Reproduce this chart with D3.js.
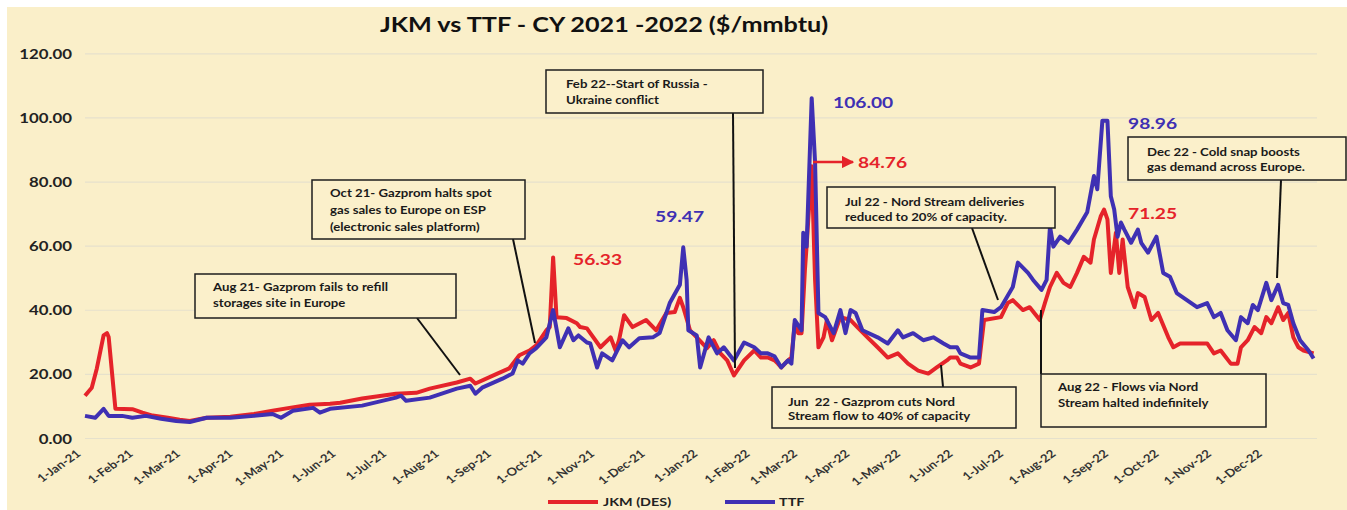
<!DOCTYPE html>
<html>
<head>
<meta charset="utf-8">
<script src="https://cdn.jsdelivr.net/npm/d3@7"></script>
<style>
  html, body { margin: 0; padding: 0; background: #fff; }
  svg { display: block; font-family: Lato, "Open Sans", sans-serif; }
</style>
</head>
<body>
<svg id="chart" width="1347" height="510"></svg>
<script>
// JKM (DES) spot, $/mmbtu
const jkm = [
  ["2021-01-01", 13.2], ["2021-01-05", 15.7], ["2021-01-08", 21.7], ["2021-01-12", 32.0],
  ["2021-01-14", 32.7], ["2021-01-15", 31.5], ["2021-01-19", 9.1], ["2021-01-29", 9.0],
  ["2021-02-04", 7.9], ["2021-02-10", 7.0], ["2021-02-19", 6.3], ["2021-02-26", 5.7],
  ["2021-03-04", 5.3], ["2021-03-14", 6.3], ["2021-03-28", 6.6], ["2021-04-11", 7.5],
  ["2021-04-22", 8.5], ["2021-05-02", 9.4], ["2021-05-14", 10.4], ["2021-05-26", 10.7],
  ["2021-06-01", 11.0], ["2021-06-14", 12.3], ["2021-07-04", 13.8], ["2021-07-16", 14.1],
  ["2021-07-24", 15.4], ["2021-08-09", 17.3], ["2021-08-17", 18.5], ["2021-08-20", 17.0],
  ["2021-09-02", 20.1], ["2021-09-09", 21.7], ["2021-09-15", 25.8], ["2021-09-21", 27.3],
  ["2021-09-25", 28.9], ["2021-10-01", 33.6], ["2021-10-03", 34.6], ["2021-10-05", 56.33],
  ["2021-10-07", 37.7], ["2021-10-13", 37.4], ["2021-10-19", 35.8], ["2021-10-21", 34.6],
  ["2021-10-25", 34.2], ["2021-10-27", 32.7], ["2021-11-02", 28.3], ["2021-11-08", 31.4],
  ["2021-11-11", 27.3], ["2021-11-13", 30.5], ["2021-11-16", 38.3], ["2021-11-21", 34.6],
  ["2021-11-29", 36.8], ["2021-12-05", 33.6], ["2021-12-11", 39.0], ["2021-12-16", 39.3],
  ["2021-12-19", 43.7], ["2021-12-21", 40.8], ["2021-12-25", 33.6], ["2021-12-29", 31.4],
  ["2022-01-04", 28.0], ["2022-01-08", 30.5], ["2022-01-12", 26.4], ["2022-01-16", 24.2],
  ["2022-01-20", 19.5], ["2022-01-26", 24.2], ["2022-02-01", 27.3], ["2022-02-05", 25.1],
  ["2022-02-09", 25.1], ["2022-02-13", 24.2], ["2022-02-15", 23.2], ["2022-02-17", 22.0],
  ["2022-02-21", 24.2], ["2022-02-23", 25.1], ["2022-02-25", 35.8], ["2022-02-27", 32.7],
  ["2022-03-01", 32.7], ["2022-03-03", 52.5], ["2022-03-04", 60.0], ["2022-03-07", 84.76],
  ["2022-03-09", 49.3], ["2022-03-11", 28.3], ["2022-03-14", 31.4], ["2022-03-16", 36.8],
  ["2022-03-19", 30.5], ["2022-03-24", 37.7], ["2022-03-30", 36.8], ["2022-04-03", 34.6],
  ["2022-04-09", 31.4], ["2022-04-15", 28.3], ["2022-04-21", 25.1], ["2022-04-27", 26.4],
  ["2022-05-03", 23.2], ["2022-05-09", 21.0], ["2022-05-15", 20.1], ["2022-05-20", 22.0],
  ["2022-05-26", 24.2], ["2022-05-28", 25.1], ["2022-06-01", 25.1], ["2022-06-03", 23.2],
  ["2022-06-09", 22.0], ["2022-06-14", 23.2], ["2022-06-17", 36.8], ["2022-06-27", 37.7],
  ["2022-07-01", 42.1], ["2022-07-04", 43.0], ["2022-07-10", 39.9], ["2022-07-14", 40.8],
  ["2022-07-20", 36.8], ["2022-07-23", 42.1], ["2022-07-26", 47.1], ["2022-07-30", 51.5],
  ["2022-08-03", 48.4], ["2022-08-07", 47.1], ["2022-08-11", 51.5], ["2022-08-15", 56.5],
  ["2022-08-19", 54.7], ["2022-08-21", 61.9], ["2022-08-25", 69.1], ["2022-08-27", 71.25],
  ["2022-08-29", 68.2], ["2022-08-31", 51.5], ["2022-09-03", 64.0], ["2022-09-05", 51.5],
  ["2022-09-07", 61.9], ["2022-09-10", 47.1], ["2022-09-14", 40.8], ["2022-09-16", 45.2],
  ["2022-09-20", 44.0], ["2022-09-24", 36.8], ["2022-09-28", 39.0], ["2022-10-04", 31.4],
  ["2022-10-07", 28.3], ["2022-10-11", 29.5], ["2022-10-17", 29.5], ["2022-10-27", 29.5],
  ["2022-10-31", 26.4], ["2022-11-04", 27.3], ["2022-11-10", 23.2], ["2022-11-14", 23.2],
  ["2022-11-16", 28.3], ["2022-11-20", 30.5], ["2022-11-24", 34.6], ["2022-11-28", 32.7],
  ["2022-12-01", 37.7], ["2022-12-04", 35.8], ["2022-12-08", 40.8], ["2022-12-11", 36.8],
  ["2022-12-14", 39.0], ["2022-12-17", 31.4], ["2022-12-20", 28.3], ["2022-12-23", 27.3],
  ["2022-12-29", 26.4]
];

// TTF, $/mmbtu
const ttf = [
  ["2021-01-01", 6.9], ["2021-01-07", 6.3], ["2021-01-12", 9.1], ["2021-01-15", 6.9],
  ["2021-01-23", 6.9], ["2021-01-29", 6.3], ["2021-02-06", 6.9], ["2021-02-15", 6.0],
  ["2021-02-24", 5.3], ["2021-03-04", 5.0], ["2021-03-14", 6.3], ["2021-03-28", 6.3],
  ["2021-04-11", 6.9], ["2021-04-22", 7.5], ["2021-04-27", 6.3], ["2021-05-04", 8.5],
  ["2021-05-16", 9.4], ["2021-05-20", 7.9], ["2021-05-26", 9.1], ["2021-06-14", 10.1],
  ["2021-07-04", 12.6], ["2021-07-07", 13.2], ["2021-07-10", 11.6], ["2021-07-24", 12.6],
  ["2021-08-09", 15.4], ["2021-08-17", 16.3], ["2021-08-20", 13.8], ["2021-08-24", 15.7],
  ["2021-09-05", 18.5], ["2021-09-11", 20.1], ["2021-09-14", 24.2], ["2021-09-17", 23.2],
  ["2021-09-21", 26.4], ["2021-09-25", 28.0], ["2021-10-01", 31.4], ["2021-10-05", 39.9],
  ["2021-10-09", 28.3], ["2021-10-14", 34.2], ["2021-10-17", 30.5], ["2021-10-20", 32.0],
  ["2021-10-25", 29.8], ["2021-10-27", 29.5], ["2021-10-31", 22.0], ["2021-11-03", 26.4],
  ["2021-11-09", 24.2], ["2021-11-15", 30.5], ["2021-11-19", 28.3], ["2021-11-25", 31.1],
  ["2021-12-03", 31.4], ["2021-12-07", 32.7], ["2021-12-13", 42.1], ["2021-12-19", 47.8],
  ["2021-12-21", 59.47], ["2021-12-23", 49.3], ["2021-12-24", 33.6], ["2021-12-29", 32.0],
  ["2021-12-31", 22.0], ["2022-01-05", 31.4], ["2022-01-10", 26.4], ["2022-01-14", 28.3],
  ["2022-01-20", 24.2], ["2022-01-26", 29.8], ["2022-02-01", 28.3], ["2022-02-05", 26.4],
  ["2022-02-09", 26.4], ["2022-02-13", 25.5], ["2022-02-17", 22.0], ["2022-02-21", 24.2],
  ["2022-02-23", 23.2], ["2022-02-25", 36.8], ["2022-03-01", 33.6], ["2022-03-02", 64.0],
  ["2022-03-04", 59.7], ["2022-03-07", 106.0], ["2022-03-09", 86.0], ["2022-03-11", 39.0],
  ["2022-03-15", 37.7], ["2022-03-20", 32.7], ["2022-03-24", 39.9], ["2022-03-27", 32.7],
  ["2022-03-30", 39.9], ["2022-04-02", 39.0], ["2022-04-06", 33.6], ["2022-04-15", 31.4],
  ["2022-04-21", 29.5], ["2022-04-27", 33.6], ["2022-04-30", 31.4], ["2022-05-06", 32.7],
  ["2022-05-12", 30.5], ["2022-05-18", 31.4], ["2022-05-24", 29.5], ["2022-05-28", 28.3],
  ["2022-06-01", 28.3], ["2022-06-03", 26.4], ["2022-06-09", 25.1], ["2022-06-14", 25.1],
  ["2022-06-16", 39.9], ["2022-06-23", 39.3], ["2022-06-27", 40.8], ["2022-07-04", 47.1],
  ["2022-07-07", 54.7], ["2022-07-13", 51.5], ["2022-07-16", 49.3], ["2022-07-21", 46.2],
  ["2022-07-24", 49.3], ["2022-07-26", 66.0], ["2022-07-28", 59.7], ["2022-08-01", 62.8],
  ["2022-08-06", 60.9], ["2022-08-11", 65.0], ["2022-08-17", 70.4], ["2022-08-21", 81.7],
  ["2022-08-23", 77.6], ["2022-08-26", 98.96], ["2022-08-29", 98.96], ["2022-08-31", 75.4],
  ["2022-09-02", 71.3], ["2022-09-04", 62.8], ["2022-09-06", 67.2], ["2022-09-08", 65.0],
  ["2022-09-12", 60.9], ["2022-09-16", 65.0], ["2022-09-18", 60.9], ["2022-09-22", 57.8],
  ["2022-09-27", 62.8], ["2022-10-01", 51.5], ["2022-10-05", 50.3], ["2022-10-09", 45.2],
  ["2022-10-15", 43.0], ["2022-10-21", 40.8], ["2022-10-27", 42.1], ["2022-10-31", 37.7],
  ["2022-11-04", 39.0], ["2022-11-08", 33.6], ["2022-11-13", 30.5], ["2022-11-16", 37.7],
  ["2022-11-20", 35.8], ["2022-11-23", 41.5], ["2022-11-26", 39.9], ["2022-12-01", 48.4],
  ["2022-12-04", 43.0], ["2022-12-08", 47.8], ["2022-12-11", 42.1], ["2022-12-14", 41.5],
  ["2022-12-17", 35.8], ["2022-12-21", 30.5], ["2022-12-26", 27.3], ["2022-12-29", 24.8]
];

const yTicks = [0, 20, 40, 60, 80, 100, 120];
const seriesNames = ["JKM (DES)", "TTF"];
const colors = { jkm: "#e5232a", ttf: "#3f30b3" };

// callouts: text lines, box [x, y, w, h], connector [x1, y1, x2, y2]
const notes = [
  { lines: ["Aug 21- Gazprom fails to refill", "storages site in Europe"],
    box: [195, 274, 261, 44], tx: 213, ty: 291, lh: 16, link: [417, 318, 460, 375] },
  { lines: ["Oct 21- Gazprom halts spot", "gas sales to Europe on ESP", "(electronic sales platform)"],
    box: [312, 180, 213, 59], tx: 330, ty: 197, lh: 17, link: [513, 239, 535, 343] },
  { lines: ["Feb 22--Start of Russia -", "Ukraine conflict"],
    box: [546, 70, 217, 43], tx: 566, ty: 88, lh: 16, link: [733, 113, 735, 368] },
  { lines: ["Jul 22 - Nord Stream deliveries", "reduced to 20% of capacity."],
    box: [827, 187, 228, 41], tx: 845, ty: 206, lh: 15, link: [972, 228, 998, 300] },
  { lines: ["Dec 22 - Cold snap boosts", "gas demand across Europe."],
    box: [1128, 137, 218, 43], tx: 1147, ty: 156, lh: 15, link: [1281, 180, 1277, 278] },
  { lines: ["Jun  22 - Gazprom cuts Nord", "Stream flow to 40% of capacity"],
    box: [772, 387, 244, 41], tx: 788, ty: 406, lh: 14, link: [943, 387, 941, 365] },
  { lines: ["Aug 22 - Flows via Nord", "Stream halted indefinitely"],
    box: [1041, 374, 225, 53], tx: 1058, ty: 391, lh: 16, link: [1041, 374, 1041, 310] }
];

const SX = 1.2; // text in the source is stretched sideways
const parse = d3.timeParse("%Y-%m-%d");

const svg = d3.select("#chart");
svg.append("rect").attr("x", 7).attr("y", 7).attr("width", 1340).attr("height", 503)
  .attr("fill", "#faefc9");

const x = d3.scaleTime()
  .domain([parse("2021-01-01"), parse("2022-12-31")])
  .range([85, 1317]);
const y = d3.scaleLinear().domain([0, 120]).range([438, 53.3]);

// gridlines
svg.append("g")
  .attr("transform", "translate(85,0)")
  .call(d3.axisLeft(y).tickValues(yTicks).tickSize(-1232).tickFormat(""))
  .call(g => g.select(".domain").remove())
  .call(g => g.selectAll("line").attr("stroke", "#e6e1cc").attr("stroke-width", 1.2));

// y labels
svg.append("g")
  .attr("transform", "translate(72,0)")
  .call(d3.axisLeft(y).tickValues(yTicks).tickSize(0).tickPadding(0).tickFormat(d3.format(".2f")))
  .call(g => g.select(".domain").remove())
  .call(g => g.selectAll("text")
    .attr("x", null).attr("dy", null)
    .attr("transform", "translate(0,5) scale(" + SX + ",1)")
    .attr("text-anchor", "end")
    .attr("font-family", "Lato").attr("font-weight", "bold").attr("font-size", 14)
    .attr("fill", "#222"));

// x labels
svg.append("g")
  .attr("transform", "translate(0,444)")
  .call(d3.axisBottom(x).ticks(d3.timeMonth.every(1)).tickSize(0)
    .tickFormat(d3.timeFormat("%-d-%b-%y")))
  .call(g => g.select(".domain").remove())
  .call(g => g.selectAll("text")
    .attr("y", null).attr("dy", null)
    .attr("transform", "translate(-4,11) scale(" + SX + ",1) rotate(-40)")
    .attr("text-anchor", "end")
    .attr("font-family", "Lato").attr("font-weight", "bold").attr("font-size", 11)
    .attr("fill", "#333"));

// series
const line = d3.line().x(d => x(parse(d[0]))).y(d => y(d[1]));
[["jkm", jkm], ["ttf", ttf]].forEach(([k, data]) => {
  svg.append("path")
    .datum(data)
    .attr("d", line)
    .attr("fill", "none")
    .attr("stroke", colors[k])
    .attr("stroke-width", 4)
    .attr("stroke-linejoin", "round");
});

// callouts
const ng = svg.append("g");
notes.forEach(n => {
  ng.append("line")
    .attr("x1", n.link[0]).attr("y1", n.link[1]).attr("x2", n.link[2]).attr("y2", n.link[3])
    .attr("stroke", "#111").attr("stroke-width", 2);
  ng.append("rect")
    .attr("x", n.box[0]).attr("y", n.box[1]).attr("width", n.box[2]).attr("height", n.box[3])
    .attr("fill", "#fbf0cb").attr("stroke", "#1e1e1e").attr("stroke-width", 1.5);
  n.lines.forEach((t, i) => {
    ng.append("text")
      .attr("transform", `translate(${n.tx},${n.ty + i * n.lh}) scale(${SX},1)`)
      .attr("font-family", "Lato").attr("font-weight", "bold").attr("font-size", 11)
      .attr("fill", "#1a1a1a")
      .style("white-space", "pre")
      .text(t);
  });
});

// value labels
const valueLabels = [
  { t: "56.33", x: 573, y: 265, c: colors.jkm },
  { t: "59.47", x: 655, y: 222, c: colors.ttf },
  { t: "106.00", x: 833, y: 108, c: colors.ttf },
  { t: "84.76", x: 858, y: 168, c: colors.jkm },
  { t: "98.96", x: 1128, y: 129, c: colors.ttf },
  { t: "71.25", x: 1128, y: 219, c: colors.jkm }
];
svg.append("g").selectAll("text")
  .data(valueLabels)
  .join("text")
  .attr("transform", d => `translate(${d.x},${d.y}) scale(${SX},1)`)
  .attr("font-family", "Lato").attr("font-weight", "bold").attr("font-size", 16)
  .attr("fill", d => d.c)
  .text(d => d.t);

// arrow to 84.76
svg.append("defs").append("marker")
  .attr("id", "arr").attr("viewBox", "0 0 10 10").attr("refX", 9).attr("refY", 5)
  .attr("markerWidth", 5).attr("markerHeight", 5).attr("orient", "auto")
  .append("path").attr("d", "M0,0L10,5L0,10z").attr("fill", colors.jkm);
svg.append("line")
  .attr("x1", 813).attr("y1", 162).attr("x2", 853).attr("y2", 162)
  .attr("stroke", colors.jkm).attr("stroke-width", 2.5)
  .attr("marker-end", "url(#arr)");

// title
svg.append("text")
  .attr("transform", `translate(604,32) scale(${SX},1)`)
  .attr("text-anchor", "middle")
  .attr("font-family", "Lato").attr("font-weight", "bold").attr("font-size", 21)
  .attr("fill", "#111")
  .text("JKM vs TTF - CY 2021 -2022 ($/mmbtu)");

// legend
const lg = svg.append("g");
[[548, colors.jkm, 603, seriesNames[0]], [725, colors.ttf, 779, seriesNames[1]]].forEach(([lx, c, tx, t]) => {
  lg.append("line").attr("x1", lx).attr("x2", lx + 50).attr("y1", 502).attr("y2", 502)
    .attr("stroke", c).attr("stroke-width", 4);
  lg.append("text")
    .attr("transform", `translate(${tx},506) scale(${SX},1)`)
    .attr("font-family", "Lato").attr("font-weight", "bold").attr("font-size", 12)
    .attr("fill", "#222")
    .text(t);
});
</script>
</body>
</html>
